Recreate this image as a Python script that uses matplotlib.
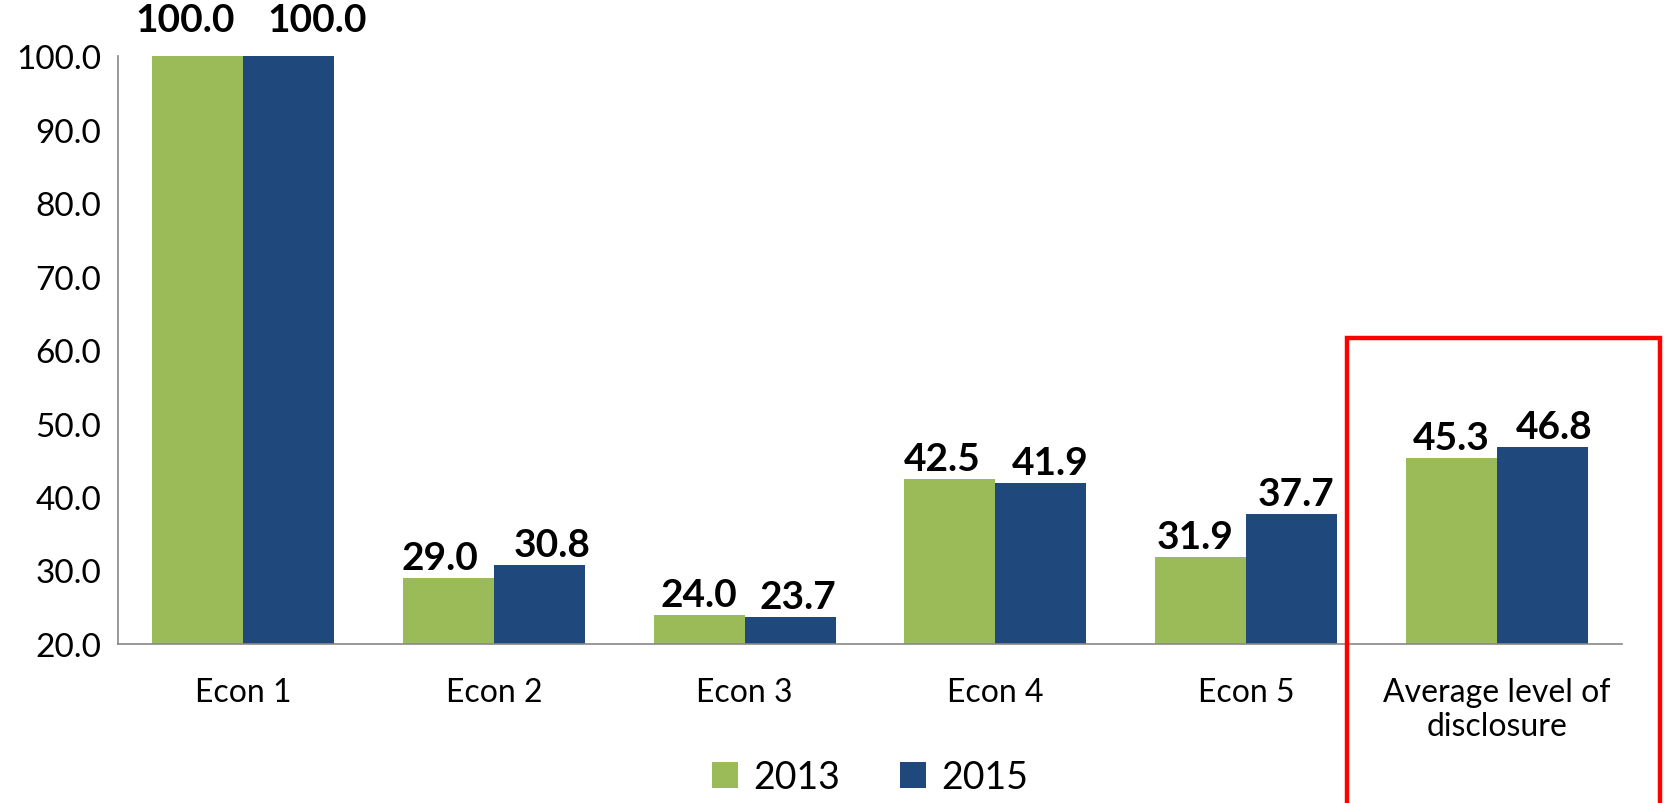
import numpy as np
import matplotlib.pyplot as plt
from matplotlib.patches import Rectangle

# данные
categories = ['Econ 1', 'Econ 2', 'Econ 3', 'Econ 4', 'Econ 5', 'Average level of\ndisclosure']
vals_2013 = [100.0, 29.0, 24.0, 42.5, 31.9, 45.3]
vals_2015 = [100.0, 30.8, 23.7, 41.9, 37.7, 46.8]
yticks = [20, 30, 40, 50, 60, 70, 80, 90, 100]

# сдвиг подписей (px), как в исходнике — чтобы не налезали
shift_2013 = [-13, -9, 0, -8, -5, 0]
shift_2015 = [28, 13, 8, 9, 4, 12]
lift = [19, 3, 3, 3, 3, 3]

green = '#9BBB59'
blue = '#1F497D'

plt.rcParams['font.family'] = ['Lato', 'DejaVu Sans']

fig = plt.figure(figsize=(16.64, 8.04), dpi=100)
ax = fig.add_axes([0.0709, 0.1978, 0.9039, 0.7312])

x = np.arange(len(categories))
w = 0.363
b1 = ax.bar(x - w / 2, vals_2013, w, color=green, label='2013', zorder=2)
b2 = ax.bar(x + w / 2, vals_2015, w, color=blue, label='2015', zorder=2)

for bars, shifts in ((b1, shift_2013), (b2, shift_2015)):
    for bar, dx, dy in zip(bars, shifts, lift):
        h = bar.get_height()
        ax.annotate(f'{h:.1f}', xy=(bar.get_x() + bar.get_width() / 2, h),
                    xytext=(dx, dy), textcoords='offset pixels',
                    ha='center', va='bottom', fontsize=28, fontweight='bold',
                    annotation_clip=False)

ax.set_xlim(-0.5, len(categories) - 0.5)
ax.set_ylim(20, 100)
ax.set_yticks(yticks)
ax.set_yticklabels([f'{v:.1f}' for v in yticks], fontsize=24)
ax.set_xticks(x)
ax.set_xticklabels(categories, fontsize=23, linespacing=1.15)
ax.tick_params(axis='both', length=0)
ax.tick_params(axis='x', pad=24)
ax.tick_params(axis='y', pad=12)

for s in ('top', 'right'):
    ax.spines[s].set_visible(False)
for s in ('left', 'bottom'):
    ax.spines[s].set_color('#888888')
    ax.spines[s].set_linewidth(1.2)

fig.legend(handles=[b1, b2], labels=['2013', '2015'], loc='center',
           bbox_to_anchor=(0.523, 0.032), ncol=2, frameon=False, fontsize=27,
           handlelength=0.7, handleheight=0.7, handletextpad=0.4, columnspacing=1.6)

# красная рамка вокруг среднего
fig.patches.append(Rectangle((0.8095, -0.01), 0.188, 0.588, transform=fig.transFigure,
                             fill=False, edgecolor='#FF0000', linewidth=3.2, clip_on=False))

fig.savefig('out.png', dpi=100)
